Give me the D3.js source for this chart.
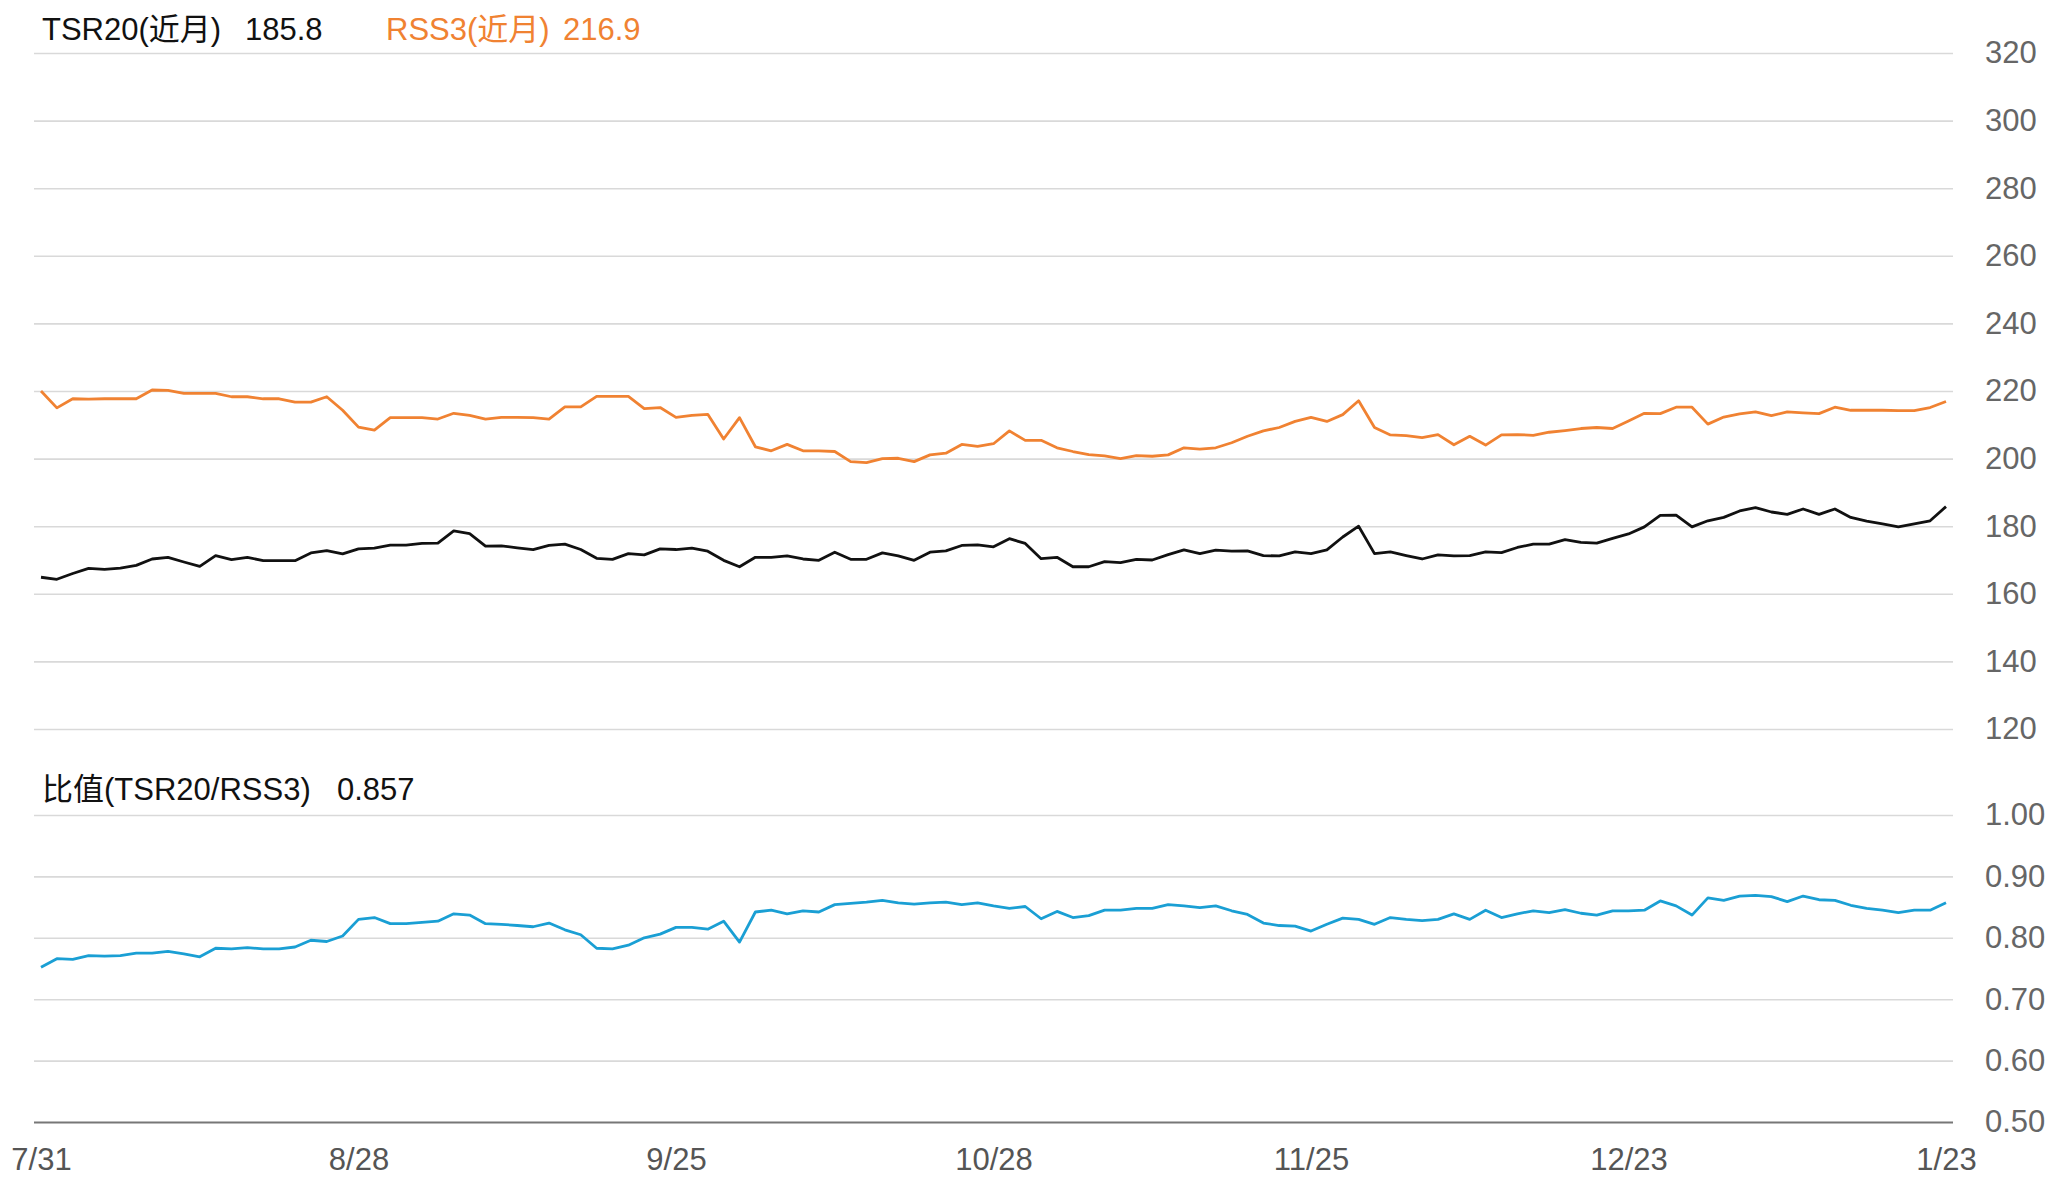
<!DOCTYPE html>
<html>
<head>
<meta charset="utf-8">
<script src="https://cdn.jsdelivr.net/npm/d3@7/dist/d3.min.js"></script>
<style>
  html, body { margin: 0; padding: 0; background: #fff; }
  svg { display: block; }
  text { font-family: "Liberation Sans", Arial, "Noto Sans CJK SC", sans-serif; }
</style>
</head>
<body>
<svg id="chart" width="2048" height="1178"></svg>
<script>
// ---- data ----
const tickIndex = [0, 20, 40, 60, 80, 100, 120];
const tickLabels = ["7/31", "8/28", "9/25", "10/28", "11/25", "12/23", "1/23"];

const tsr20 = [
  164.9,164.3,166.0,167.5,167.2,167.6,168.4,170.3,170.8,169.4,
  168.1,171.3,170.1,170.8,169.8,169.8,169.8,172.1,172.8,171.8,
  173.3,173.5,174.4,174.4,174.9,175.0,178.6,177.8,174.1,174.2,
  173.6,173.1,174.3,174.7,173.1,170.5,170.2,171.9,171.5,173.3,
  173.1,173.5,172.6,169.9,168.0,170.8,170.8,171.2,170.3,169.9,
  172.3,170.2,170.2,172.1,171.2,169.9,172.3,172.7,174.3,174.5,
  173.9,176.3,174.9,170.4,170.8,168.0,168.0,169.5,169.2,170.2,
  170.0,171.6,173.0,171.9,172.9,172.6,172.7,171.3,171.2,172.4,
  171.9,173.0,176.8,180.0,171.9,172.4,171.3,170.3,171.5,171.2,
  171.3,172.4,172.2,173.7,174.7,174.7,176.0,175.2,175.0,176.4,
  177.7,179.8,183.2,183.3,179.8,181.6,182.6,184.5,185.5,184.2,
  183.5,185.1,183.5,185.1,182.6,181.5,180.7,179.8,180.7,181.6,
  185.8
];

const rss3 = [
  220.0,215.0,217.7,217.6,217.7,217.7,217.7,220.3,220.2,219.3,
  219.3,219.3,218.3,218.3,217.7,217.7,216.7,216.7,218.3,214.3,
  209.3,208.4,212.1,212.1,212.1,211.7,213.4,212.8,211.7,212.2,
  212.2,212.1,211.7,215.3,215.3,218.4,218.4,218.4,214.8,215.1,
  212.2,212.8,213.1,205.8,212.1,203.5,202.3,204.2,202.3,202.3,
  202.1,199.1,198.8,200.0,200.1,199.1,201.1,201.6,204.2,203.6,
  204.4,208.2,205.4,205.4,203.2,202.1,201.2,200.8,200.0,200.9,
  200.7,201.1,203.2,202.8,203.2,204.7,206.6,208.2,209.2,211.0,
  212.2,211.0,213.0,217.1,209.2,207.0,206.8,206.2,207.1,204.1,
  206.6,204.0,207.0,207.1,206.9,207.8,208.3,208.9,209.2,208.9,
  211.1,213.4,213.3,215.2,215.2,210.2,212.3,213.2,213.8,212.7,
  213.8,213.5,213.3,215.2,214.3,214.3,214.3,214.2,214.2,215.1,
  216.9
];

const ratio = [
  0.752,0.766,0.765,0.771,0.770,0.771,0.775,0.775,0.778,0.774,
  0.769,0.783,0.782,0.784,0.782,0.782,0.785,0.796,0.794,0.803,
  0.830,0.833,0.823,0.823,0.825,0.827,0.839,0.837,0.823,0.822,
  0.820,0.818,0.824,0.813,0.805,0.783,0.782,0.788,0.800,0.806,
  0.817,0.817,0.814,0.827,0.793,0.842,0.845,0.839,0.844,0.842,
  0.854,0.856,0.858,0.861,0.857,0.855,0.857,0.858,0.854,0.857,
  0.852,0.848,0.851,0.831,0.843,0.833,0.836,0.845,0.845,0.848,
  0.848,0.854,0.852,0.849,0.852,0.844,0.838,0.824,0.820,0.819,
  0.811,0.822,0.832,0.830,0.822,0.833,0.830,0.828,0.830,0.839,
  0.830,0.845,0.833,0.839,0.844,0.841,0.846,0.840,0.837,0.844,
  0.844,0.845,0.860,0.852,0.837,0.865,0.861,0.868,0.869,0.867,
  0.859,0.868,0.862,0.861,0.853,0.848,0.845,0.841,0.845,0.845,
  0.857
];

const topTicks = [120, 140, 160, 180, 200, 220, 240, 260, 280, 300, 320];
const bottomTicks = [0.5, 0.6, 0.7, 0.8, 0.9, 1.0];

// ---- layout ----
const svg = d3.select("#chart");
const gridLeft = 34, gridRight = 1953;
const colors = { tsr: "#111111", rss: "#F08232", ratio: "#1A9FD4" };

const x = d3.scaleLinear().domain([0, tsr20.length - 1]).range([41, 1946]);
const yTop = d3.scaleLinear().domain([120, 320]).range([729, 53]);
const yBot = d3.scaleLinear().domain([0.5, 1.0]).range([1122, 815]);

function drawAxis(scale, ticks, fmt) {
  const g = svg.append("g")
    .attr("transform", `translate(${gridRight},0)`)
    .call(d3.axisRight(scale).tickValues(ticks).tickFormat(fmt)
      .tickSize(-(gridRight - gridLeft)).tickPadding(32));
  g.select(".domain").remove();
  g.selectAll(".tick line").attr("stroke", "#d9d9d9").attr("stroke-width", 1.6);
  g.selectAll(".tick text").attr("fill", "#666").style("font-size", "31px")
    .attr("font-family", "'Liberation Sans', Arial, sans-serif");
  return g;
}

drawAxis(yTop, topTicks, d3.format("d"));
const gb = drawAxis(yBot, bottomTicks, d3.format(".2f"));
gb.selectAll(".tick").filter(d => d === 0.5).select("line")
  .attr("stroke", "#777").attr("stroke-width", 2.2);

// x axis
const gx = svg.append("g")
  .attr("transform", "translate(0,1122)")
  .call(d3.axisBottom(x).tickValues(tickIndex)
    .tickFormat((d, i) => tickLabels[i]).tickSize(0).tickPadding(26));
gx.select(".domain").remove();
gx.selectAll(".tick text").attr("fill", "#555").style("font-size", "31px")
  .attr("font-family", "'Liberation Sans', Arial, sans-serif");

// lines
function drawLine(data, yScale, color) {
  const line = d3.line().x((d, i) => x(i)).y(d => yScale(d));
  svg.append("path").datum(data)
    .attr("fill", "none").attr("stroke", color)
    .attr("stroke-width", 2.8).attr("stroke-linejoin", "round")
    .attr("d", line);
}
drawLine(rss3, yTop, colors.rss);
drawLine(tsr20, yTop, colors.tsr);
drawLine(ratio, yBot, colors.ratio);

// headers
function label(txt, xPos, yPos, color) {
  svg.append("text").attr("x", xPos).attr("y", yPos)
    .attr("fill", color).style("font-size", "31px").text(txt);
}
label("TSR20(近月)", 42, 40, colors.tsr);
label(d3.format(".1f")(tsr20[tsr20.length - 1]), 245, 40, colors.tsr);
label("RSS3(近月)", 386, 40, colors.rss);
label(d3.format(".1f")(rss3[rss3.length - 1]), 563, 40, colors.rss);
label("比值(TSR20/RSS3)", 42, 800, colors.tsr);
label(d3.format(".3f")(ratio[ratio.length - 1]), 337, 800, colors.tsr);
</script>
</body>
</html>
